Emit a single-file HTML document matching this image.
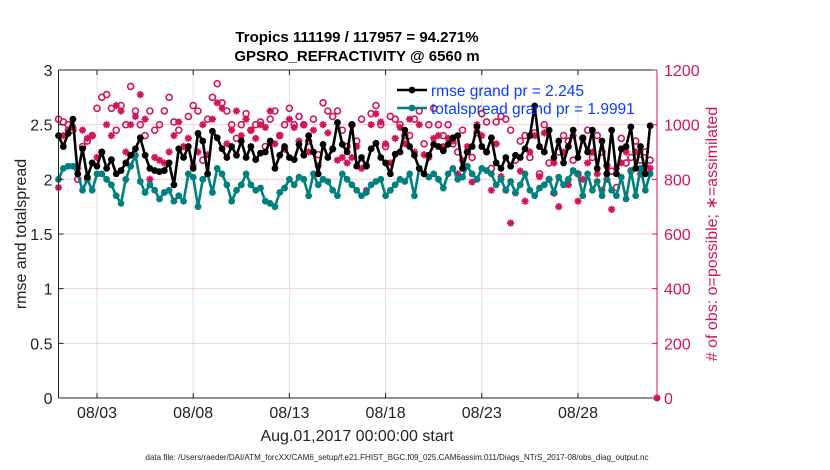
<!DOCTYPE html>
<html><head><meta charset="utf-8"><style>
html,body{margin:0;padding:0;background:#fff;}
svg{display:block;font-family:"Liberation Sans",sans-serif;}
</style></head><body>
<svg id="chart" width="830" height="470" viewBox="0 0 830 470"></svg>
<script>
const rmse=[2.40,2.30,2.42,2.55,2.05,2.28,2.02,2.15,2.12,2.25,
2.10,2.18,2.05,2.08,2.15,2.22,2.28,2.38,2.22,2.10,
2.08,2.07,2.08,2.15,1.95,2.28,2.20,2.30,2.10,2.42,
2.35,2.05,2.44,2.38,2.28,2.20,2.30,2.22,2.35,2.20,
2.30,2.18,2.24,2.25,2.35,2.10,2.22,2.30,2.20,2.18,
2.32,2.22,2.40,2.25,2.05,2.32,2.20,2.28,2.52,2.32,
2.25,2.50,2.12,2.20,2.12,2.28,2.33,2.20,2.15,2.05,
2.23,2.25,2.45,2.30,2.22,2.10,2.05,2.22,2.32,2.30,
2.26,2.32,2.38,2.40,2.10,2.25,2.30,2.48,2.30,2.25,
2.38,2.15,2.10,2.20,2.12,2.22,2.20,2.28,2.40,2.67,
2.30,2.25,2.45,2.20,2.35,2.15,2.30,2.45,2.20,2.38,
2.25,2.45,2.10,2.35,2.05,2.45,2.05,2.28,2.30,2.48,
2.10,2.30,2.05,2.49];
const spread=[2.00,2.10,2.12,2.12,2.05,1.90,2.00,1.90,2.05,2.05,
2.00,1.95,1.85,1.78,2.00,2.12,2.22,1.98,1.88,1.95,
1.90,1.82,1.88,1.90,1.80,1.85,1.80,2.05,2.02,1.75,
2.00,2.05,1.88,2.10,2.05,1.95,1.80,1.90,1.95,2.05,
1.95,1.90,1.92,1.80,1.78,1.75,1.88,1.92,2.00,1.95,
2.02,2.00,1.85,2.05,1.95,2.00,1.98,1.90,1.85,2.05,
2.00,1.95,1.90,1.85,1.88,1.95,1.98,2.00,1.85,1.90,
1.95,2.00,1.98,2.05,1.85,2.10,2.05,2.02,2.05,2.00,
1.92,2.05,2.10,2.00,2.02,2.12,2.05,2.00,2.10,2.08,
2.05,1.95,2.00,1.90,1.98,1.88,1.95,2.05,1.90,1.85,
1.92,1.95,2.00,1.88,2.02,1.95,2.00,2.08,2.05,1.85,
2.05,1.90,1.98,1.85,2.05,1.90,1.85,2.02,1.82,2.08,
1.85,2.10,1.90,2.05];
const possible=[1020,1010,1000,980,800,920,940,960,1060,1100,
1110,1060,980,1070,1000,1140,1050,1000,960,1050,
980,1000,1050,1100,1010,980,900,1030,1070,1050,
870,1020,1100,1150,1080,1050,1000,950,1000,1040,
980,1000,1010,920,1020,1050,960,1000,1060,1000,
1030,1000,940,1020,890,1080,1050,1030,1050,980,
920,1000,940,1020,850,1040,1070,1000,920,1030,
1020,1000,960,960,1020,1050,930,1000,1060,1000,
960,1000,930,900,980,900,880,970,1040,1010,
840,1010,1030,1020,980,870,940,960,880,970,
820,1000,860,750,900,960,940,870,820,950,
980,880,960,900,850,830,770,950,860,880,
940,870,900,870];
const assimilated=[770,960,980,990,840,980,950,960,880,900,
1000,960,1070,1050,900,1000,1030,1110,1020,800,
880,870,860,900,960,1010,920,950,850,900,
1000,890,1020,1080,1060,930,980,1050,960,1020,
980,950,1000,990,1050,930,960,910,1020,990,
940,1000,900,980,850,1000,970,910,870,880,
860,880,920,840,760,1000,1040,1010,930,860,
950,990,930,1020,900,1000,890,880,950,960,
920,950,940,820,870,920,790,1000,960,900,
760,930,810,760,640,750,830,720,900,960,
810,970,800,860,700,900,780,960,720,800,
860,900,820,760,800,690,840,860,900,830,
900,820,850,840];
const leftTicks=[0,0.5,1,1.5,2,2.5,3];
const leftTickLabels=["0","0.5","1","1.5","2","2.5","3"];
const rightTicks=[0,200,400,600,800,1000,1200];
const dateTicks=[2,7,12,17,22,27];
const dateTickLabels=["08/03","08/08","08/13","08/18","08/23","08/28"];

const L=58.5,R=657,T=70,B=398;
const x=d=>L+19.24*d;
const yL=v=>B-(B-T)*v/3;
const yR=v=>B-(B-T)*v/1200;
const svg=document.getElementById('chart');
const NS='http://www.w3.org/2000/svg';
function mk(tag,attrs,parent){const e=document.createElementNS(NS,tag);for(const k in attrs)e.setAttribute(k,attrs[k]);(parent||svg).appendChild(e);return e;}
const MAG='#d4145a';

dateTicks.forEach((d,i)=>{
 const g=mk('line',{x1:x(d),x2:x(d),y1:T,y2:B,stroke:'#e0e0e0','stroke-width':1});
 
 
});
rightTicks.forEach(v=>{
 const g=mk('line',{x1:L,x2:R,y1:yR(v),y2:yR(v),stroke:'#f6cfdc','stroke-width':1});
 
 
});

const tOf=i=>i*0.25;
function drawObs(arr,kind){
 const grp=mk('g',{});
 
 
 arr.forEach((v,i)=>{
  const cx=x(tOf(i)),cy=yR(v);
  if(kind==='o'){
   const c=mk('circle',{cx:cx,cy:cy,r:3,fill:'none',stroke:MAG,'stroke-width':1.6},grp);
   
   
  }else{
   const s=3.6;
   const p=mk('path',{d:`M${cx-s},${cy}H${cx+s}M${cx},${cy-s}V${cy+s}M${cx-s*0.7},${cy-s*0.7}L${cx+s*0.7},${cy+s*0.7}M${cx-s*0.7},${cy+s*0.7}L${cx+s*0.7},${cy-s*0.7}`,stroke:MAG,'stroke-width':1.8},grp);
   
   
  }
 });
}
drawObs(possible,'o');
drawObs(assimilated,'*');
function drawLine(arr,color,name){
 const grp=mk('g',{});
 
 
 const pts=arr.map((v,i)=>x(tOf(i)).toFixed(1)+','+yL(v).toFixed(1)).join(' ');
 mk('polyline',{points:pts,fill:'none',stroke:color,'stroke-width':2.6,'stroke-linejoin':'round'},grp);
 arr.forEach((v,i)=>{
  const c=mk('circle',{cx:x(tOf(i)),cy:yL(v),r:3.4,fill:color},grp);
  
  
 });
}
drawLine(spread,'#00807f','totalspread-series');
drawLine(rmse,'#000000','rmse-series');

const ax=mk('g',{});


mk('line',{x1:L,x2:R,y1:T,y2:T,stroke:'#222','stroke-width':1},ax);
mk('line',{x1:L,x2:R,y1:B,y2:B,stroke:'#222','stroke-width':1},ax);
mk('line',{x1:L,x2:L,y1:T,y2:B,stroke:'#222','stroke-width':1},ax);
mk('line',{x1:R,x2:R,y1:T,y2:B,stroke:MAG,'stroke-width':1},ax);
mk('circle',{cx:R,cy:B,r:3.5,fill:MAG},ax);
leftTicks.forEach((v,i)=>{
 mk('line',{x1:L,x2:L+5,y1:yL(v),y2:yL(v),stroke:'#222'},ax);
 const t=mk('text',{x:L-6,y:yL(v)+6,'text-anchor':'end','font-size':16,fill:'#222'},ax);
 t.textContent=leftTickLabels[i];
 
 
});
rightTicks.forEach(v=>{
 mk('line',{x1:R-5,x2:R,y1:yR(v),y2:yR(v),stroke:MAG},ax);
 const t=mk('text',{x:R+7,y:yR(v)+6,'font-size':16,fill:MAG},ax);
 t.textContent=String(v);
 
 
});
dateTicks.forEach((d,i)=>{
 mk('line',{x1:x(d),x2:x(d),y1:B-5,y2:B,stroke:'#222'},ax);
 mk('line',{x1:x(d),x2:x(d),y1:T,y2:T+5,stroke:'#222'},ax);
 const t=mk('text',{x:x(d),y:B+20,'text-anchor':'middle','font-size':16,fill:'#222'},ax);
 t.textContent=dateTickLabels[i];
 
 
});
</script>
<svg width="830" height="470" style="position:absolute;left:0;top:0">
<g font-family="Liberation Sans, sans-serif">
<text x="357" y="42" text-anchor="middle" font-size="15" font-weight="bold" fill="#000">Tropics 111199 / 117957 = 94.271%</text>
<text x="357" y="61" text-anchor="middle" font-size="15" font-weight="bold" fill="#000">GPSRO_REFRACTIVITY @ 6560 m</text>
<text x="357" y="441" text-anchor="middle" font-size="16" fill="#222">Aug.01,2017 00:00:00 start</text>
<text transform="translate(26,234) rotate(-90)" text-anchor="middle" font-size="16" fill="#222">rmse and totalspread</text>
<text transform="translate(717,234) rotate(-90)" text-anchor="middle" font-size="16" fill="#d4145a"># of obs: o=possible; ∗=assimilated</text>
<text x="397" y="460" text-anchor="middle" font-size="8.2" fill="#222" textLength="503" lengthAdjust="spacingAndGlyphs">data file: /Users/raeder/DAI/ATM_forcXX/CAM6_setup/f.e21.FHIST_BGC.f09_025.CAM6assim.011/Diags_NTrS_2017-08/obs_diag_output.nc</text>
<g>
<line x1="397" y1="90" x2="427" y2="90" stroke="#000" stroke-width="2.6"/>
<circle cx="412" cy="90" r="3.4" fill="#000"/>
<text x="431" y="96" font-size="15.5" fill="#0a3cff">rmse grand pr = 2.245</text>
<line x1="397" y1="108" x2="427" y2="108" stroke="#00807f" stroke-width="2.6"/>
<circle cx="412" cy="108" r="3.4" fill="#00807f"/>
<text x="431" y="114" font-size="15.5" fill="#0a3cff">totalspread grand pr = 1.9991</text>
</g>
</g>
</svg>
</body></html>
